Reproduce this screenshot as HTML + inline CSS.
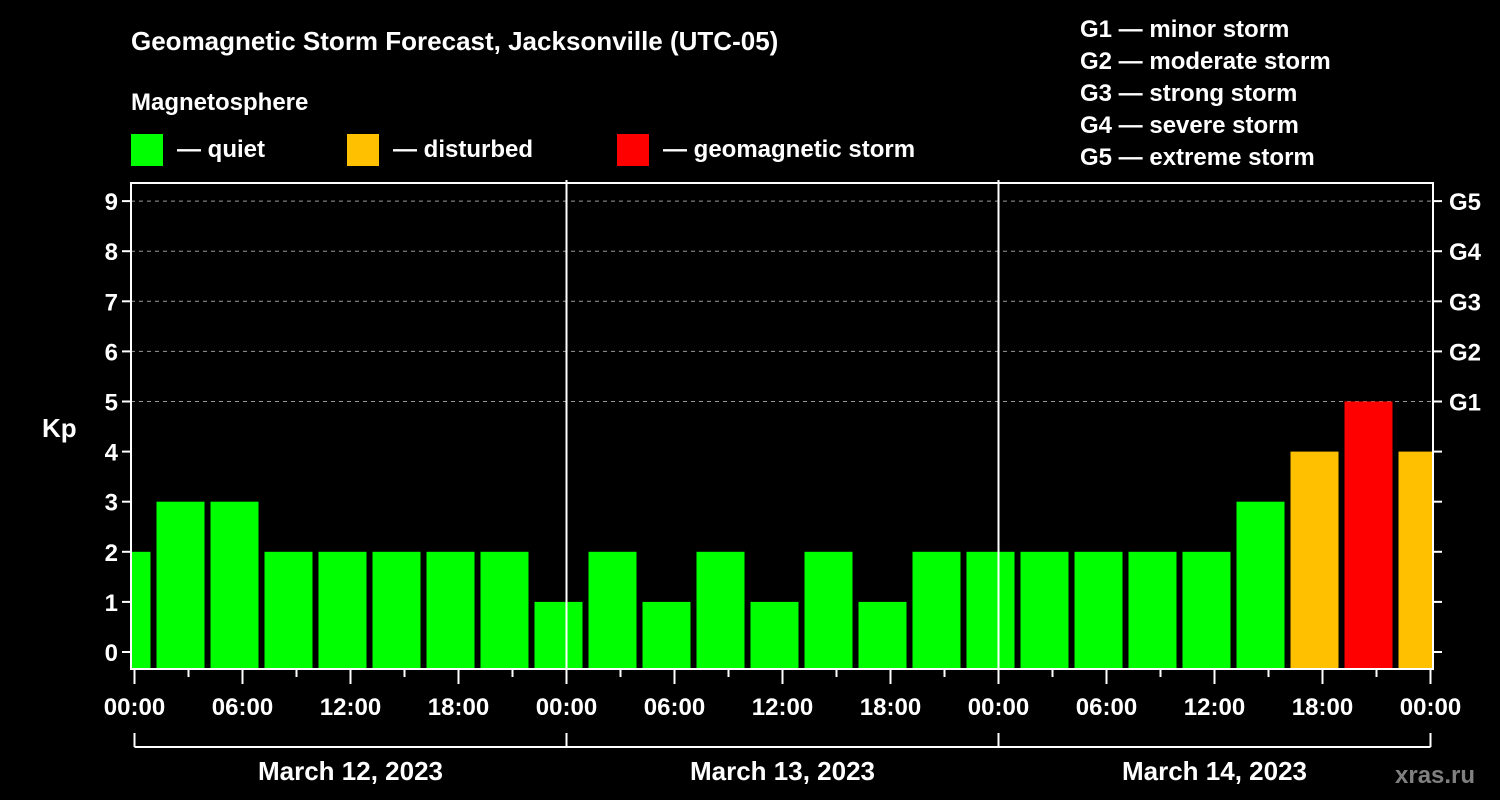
<!DOCTYPE html>
<html><head><meta charset="utf-8"><style>
html,body{margin:0;padding:0;background:#000;width:1500px;height:800px;overflow:hidden}
svg text{font-family:"Liberation Sans",Arial,sans-serif;font-weight:bold;fill:#fff}
</style></head><body>
<svg id="chart" width="1500" height="800" viewBox="0 0 1500 800">
<text x="131" y="50" font-size="26">Geomagnetic Storm Forecast, Jacksonville (UTC-05)</text>
<text x="131" y="110" font-size="24">Magnetosphere</text>
<g><rect x="131" y="134" width="32" height="32" fill="#00ff00"/><text x="177" y="157" font-size="24">— quiet</text></g>
<g><rect x="347" y="134" width="32" height="32" fill="#ffc000"/><text x="393" y="157" font-size="24">— disturbed</text></g>
<g><rect x="617" y="134" width="32" height="32" fill="#ff0000"/><text x="663" y="157" font-size="24">— geomagnetic storm</text></g>
<g font-size="24">
<text x="1080" y="37">G1 — minor storm</text>
<text x="1080" y="69">G2 — moderate storm</text>
<text x="1080" y="101">G3 — strong storm</text>
<text x="1080" y="133">G4 — severe storm</text>
<text x="1080" y="165">G5 — extreme storm</text>
</g>
<text x="42" y="437" font-size="26">Kp</text>
<text x="1395" y="783" font-size="24" style="fill:#808080">xras.ru</text>
<g id="plot"></g>
</svg>
<script>
const kpValues=[2,3,3,2,2,2,2,2,1,2,1,2,1,2,1,2,2,2,2,2,2,3,4,5,4];
const yTicks=[0,1,2,3,4,5,6,7,8,9];
const gLabels=["G1","G2","G3","G4","G5"];
const xTickLabels=["00:00","06:00","12:00","18:00","00:00","06:00","12:00","18:00","00:00","06:00","12:00","18:00","00:00"];
const dayLabels=["March 12, 2023","March 13, 2023","March 14, 2023"];
const firstBarStartHour=-2; // local hours relative to Mar 12 00:00
const barHours=3;
const NS="http://www.w3.org/2000/svg";
const X0=134.5,PXH=18,PL=131,PR=1433,PT=183,PB=669;
const x=h=>X0+h*PXH;
const y=k=>652-k*50.1;
const g=document.getElementById('plot');
function mk(t,a,p){const e=document.createElementNS(NS,t);for(const k in a)e.setAttribute(k,a[k]);(p||g).appendChild(e);return e;}
const clip=mk('clipPath',{id:'pc'});mk('rect',{x:PL,y:PT,width:PR-PL,height:PB-PT},clip);
// gridlines
yTicks.forEach(k=>{
 if(k>=5){const l=mk('line',{x1:PL,x2:PR,y1:y(k),y2:y(k),stroke:'#999','stroke-dasharray':'4,4','stroke-width':1});
 
 }
 const t=mk('text',{x:118,y:y(k)+9,'font-size':24,'text-anchor':'end'});t.textContent=k;
 
 
 mk('line',{x1:PL-9,x2:PL,y1:y(k),y2:y(k),stroke:'#fff','stroke-width':2});
 mk('line',{x1:PR,x2:PR+9,y1:y(k),y2:y(k),stroke:'#fff','stroke-width':2});
});
gLabels.forEach((s,i)=>{const t=mk('text',{x:1449,y:y(5+i)+9,'font-size':24});t.textContent=s;
 
 });
// bars
const bg=mk('g',{'clip-path':'url(#pc)'});
kpValues.forEach((v,i)=>{
 const h0=firstBarStartHour+i*barHours;
 const col=v>=5?'#ff0000':(v>=4?'#ffc000':'#00ff00');
 const r=mk('rect',{x:x(h0)+4,y:y(v),width:barHours*PXH-6,height:668-y(v),fill:col},bg);
 
 
});
// frame
const fr=mk('rect',{x:PL,y:PT,width:PR-PL,height:PB-PT,fill:'none',stroke:'#fff','stroke-width':2});


[1,2].forEach(d=>mk('line',{x1:x(24*d),x2:x(24*d),y1:PT-3,y2:PB,stroke:'#fff','stroke-width':2}));
// x ticks
for(let h=0;h<=72;h+=3){mk('line',{x1:x(h),x2:x(h),y1:PB,y2:PB+(h%6===0?15:8),stroke:'#fff','stroke-width':2});}
xTickLabels.forEach((s,i)=>{const t=mk('text',{x:x(i*6),y:715,'font-size':24,'text-anchor':'middle'});t.textContent=s;
 
 });
// day bracket
mk('line',{x1:x(0),x2:x(72),y1:747,y2:747,stroke:'#fff','stroke-width':2});
for(let d=0;d<=3;d++)mk('line',{x1:x(24*d),x2:x(24*d),y1:733,y2:747,stroke:'#fff','stroke-width':2});
dayLabels.forEach((s,i)=>{const t=mk('text',{x:x(24*i+12),y:780,'font-size':26,'text-anchor':'middle'});t.textContent=s;
 
 });
</script>
</body></html>
